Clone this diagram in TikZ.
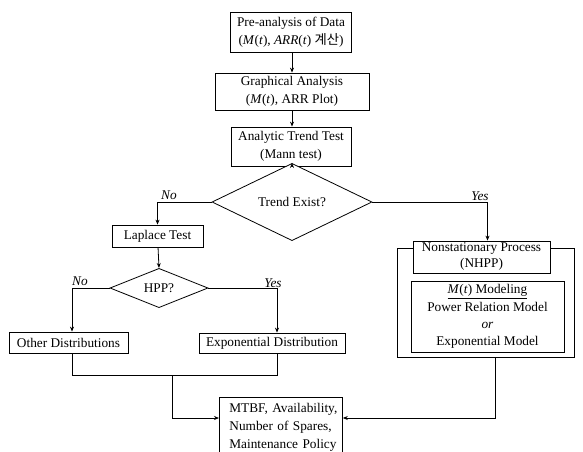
\documentclass[tikz,border=0pt]{standalone}
\usepackage{fontspec}
\setmainfont{Liberation Serif}
\newfontfamily\krfont{Noto Sans CJK KR}
\usetikzlibrary{shapes.geometric,arrows.meta,calc}
\begin{document}
\begin{tikzpicture}[x=1pt,y=-1pt,
  box/.style={draw,line width=0.8pt,fill=white,align=center,inner sep=0pt,
    font=\fontsize{13.3}{17.5}\selectfont},
  dia/.style={draw,line width=0.8pt,fill=white,shape=diamond,inner sep=0pt,
    font=\fontsize{13.3}{17}\selectfont},
  conn/.style={line width=0.8pt},
  arr/.style={line width=0.8pt,-{Stealth[length=5pt,width=4pt]}},
  lab/.style={font=\fontsize{13.3}{15}\selectfont\itshape,inner sep=0pt}]
\useasboundingbox (0,0) rectangle (583,451);
\clip (0,0) rectangle (583,451);

% main column
\node[box,minimum width=121pt,minimum height=40pt] (pre) at (291,32)
  {Pre-analysis of Data\\(\textit{M}(\textit{t}), \textit{ARR}(\textit{t}) {\krfont 계산})};
\node[box,minimum width=154pt,minimum height=37pt] (graph) at (292,91.5)
  {Graphical Analysis\\(\textit{M}(\textit{t}), ARR Plot)};
\node[box,minimum width=120pt,minimum height=39pt] (trend) at (291,146.5)
  {Analytic Trend Test\\(Mann test)};
\node[dia,minimum width=160pt,minimum height=46pt] (exist) at (292,202)
  {Trend Exist?};

% left branch
\node[box,minimum width=91pt,minimum height=22pt] (laplace) at (157.5,236)
  {Laplace Test};
\node[dia,minimum width=98pt,minimum height=38pt] (hpp) at (159,288)
  {HPP?};
\node[box,minimum width=119pt,minimum height=21pt] (other) at (68.5,342.5)
  {Other Distributions};
\node[box,minimum width=146pt,minimum height=20pt] (expo) at (272,343)
  {Exponential Distribution};

% right branch
\node[draw,line width=0.8pt,minimum width=177pt,minimum height=109pt,inner sep=0pt] (outer) at (485.5,302.5) {};
\node[box,minimum width=137pt,minimum height=32pt,font=\fontsize{13.3}{16}\selectfont] (nhpp) at (481.5,257)
  {Nonstationary Process\\(NHPP)};
\node[box,minimum width=153pt,minimum height=71pt,font=\fontsize{13.3}{17.3}\selectfont] (model) at (487.5,316.5)
  {\underline{\textit{M}(\textit{t}) Modeling}\\Power Relation Model\\\textit{or}\\Exponential Model};

% result
\node[box,anchor=north west,minimum width=123pt,minimum height=60pt,align=left,
  text width=123pt,inner xsep=0pt,
  font=\fontsize{13.3}{18}\selectfont] (mtbf) at (219,397)
  {\hspace*{10pt}MTBF, Availability,\\\hspace*{10pt}Number of Spares,\\\hspace*{10pt}Maintenance Policy};

% connectors
\draw[arr] (pre.south -| exist.north) -- (graph.north -| exist.north);
\draw[arr] (graph.south -| exist.north) -- (trend.north -| exist.north);
\draw[arr] (trend.south -| exist.north) -- (exist.north);
\draw[arr] (exist.west) -| (laplace.north);
\draw[arr] (exist.east) -| ([xshift=6pt]nhpp.north);
\draw[arr] (laplace) -- (hpp.north);
\draw[arr] (hpp.west) -| ([xshift=3.5pt]other.north);
\draw[arr] (hpp.east) -| ([xshift=5pt]expo.north);

\coordinate (jl) at (172,375);
\draw[conn] ([xshift=3.5pt]other.south) |- (jl) -| ([xshift=5pt]expo.south);
\coordinate (ml) at ([yshift=-21pt]mtbf.north west);
\coordinate (mr) at ([yshift=-21pt]mtbf.north east);
\draw[arr] (jl) |- (ml);
\draw[arr] ([xshift=9.5pt]outer.south) |- (mr);

% labels
\node[lab] (no1) at (169,195) {No};
\node[lab] (yes1) at (480,196) {Yes};
\node[lab] (no2) at (80,281) {No};
\node[lab] (yes2) at (273,283) {Yes};
\end{tikzpicture}
\end{document}
